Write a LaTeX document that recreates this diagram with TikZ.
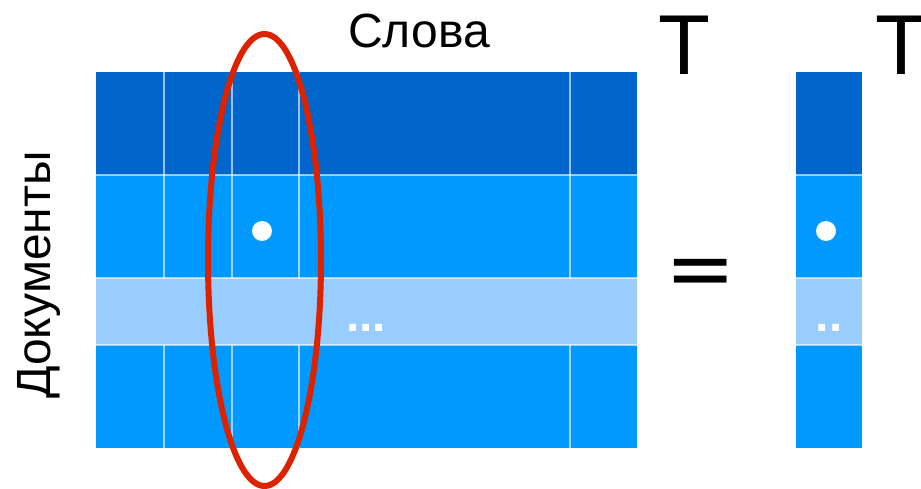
\documentclass[tikz,border=0pt]{standalone}
\usepackage{fontspec}
\setmainfont{Liberation Sans}
\newfontfamily\eqfont{DejaVu Sans}
\definecolor{darkb}{HTML}{0066CC}
\definecolor{midb}{HTML}{0099FF}
\definecolor{lightb}{HTML}{99CCFF}
\definecolor{ovalred}{HTML}{DD2200}
\tikzset{
  gridline/.style={draw=white, draw opacity=0.6, line width=1.2pt},
  bigtext/.style={font=\fontsize{48}{58}\selectfont, inner sep=0pt, text=black},
  hugetext/.style={font=\fontsize{85}{100}\selectfont, inner sep=0pt, text=black},
  dotstext/.style={font=\fontsize{48}{58}\selectfont\bfseries, inner sep=0pt, text=white},
}
\begin{document}
\begin{tikzpicture}[x=1pt,y=-1pt]
\useasboundingbox (0,0) rectangle (921,489);
% matrix
\fill[darkb] (96,72) rectangle (637,175);
\fill[midb] (96,175) rectangle (637,278);
\fill[lightb] (96,278) rectangle (637,345);
\fill[midb] (96,345) rectangle (637,448);
\foreach \y in {175,278,345} \draw[gridline] (96,\y) -- (637,\y);
\foreach \x in {164,232,299,570} {
  \draw[gridline] (\x,72) -- (\x,278);
  \draw[gridline] (\x,345) -- (\x,448);
}
\fill[white] (262,231) circle (10);
\node[dotstext, anchor=base] (mdots) at (366,331) {...};
% vector
\fill[darkb] (796,72) rectangle (862,175);
\fill[midb] (796,175) rectangle (862,278);
\fill[lightb] (796,278) rectangle (862,345);
\fill[midb] (796,345) rectangle (862,448);
\foreach \y in {175,278,345} \draw[gridline] (796,\y) -- (862,\y);
\fill[white] (826,231) circle (10);
\node[dotstext, anchor=base] (vdots) at (829,331) {..};
% oval
\draw[ovalred, line width=6] (264.5,260) ellipse [x radius=56.5, y radius=226];
% labels
\node[bigtext, anchor=base] (slova) at (419,48) {Слова};
\node[bigtext, anchor=base, rotate=90] (docs) at (50,275) {Документы};
\node[hugetext, anchor=base] (t1) at (684,75) {T};
\node[hugetext, anchor=base west] (t2) at (875,75) {T};
\node[font=\eqfont\fontsize{84}{100}\selectfont, inner sep=0pt, anchor=base] (eq) at (701,297) {=};
\end{tikzpicture}
\end{document}
